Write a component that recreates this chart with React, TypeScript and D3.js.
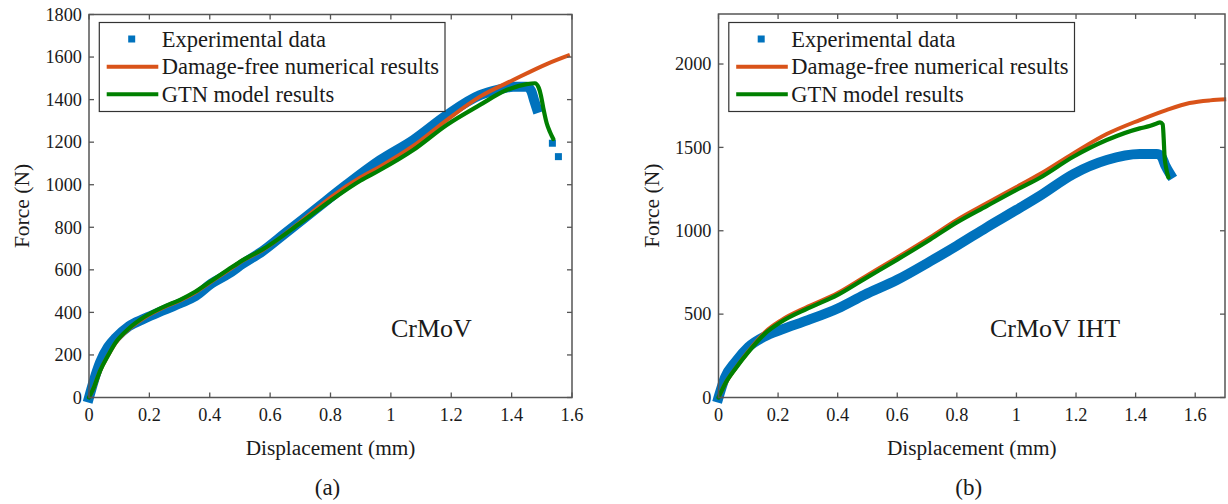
import React from "react";
import * as d3 from "d3";

// ---------- Data ----------
const legendLabels = ["Experimental data", "Damage-free numerical results", "GTN model results"];

// Panel (a) CrMoV
const aExpX = [0, 0.016, 0.037, 0.063, 0.089, 0.132, 0.184, 0.247, 0.3, 0.353, 0.405, 0.46, 0.511, 0.574, 0.65, 0.75, 0.85, 0.964, 1.074, 1.185, 1.295, 1.36, 1.405, 1.45, 1.465, 1.475, 1.483];
const aExpF = [0, 79, 166, 237, 281, 335, 371, 410, 442, 477, 535, 580, 630, 687, 772, 884, 996, 1115, 1210, 1327, 1421, 1448, 1461, 1461, 1440, 1395, 1360];
const aExpTailX = [1.535, 1.555];
const aExpTailF = [1195, 1132];
const aDfX = [0, 0.016, 0.037, 0.063, 0.089, 0.132, 0.184, 0.247, 0.3, 0.353, 0.405, 0.46, 0.511, 0.574, 0.7, 0.8, 0.9, 0.964, 1.074, 1.185, 1.295, 1.405, 1.516, 1.593];
const aDfF = [0, 47, 126, 197, 258, 322, 376, 423, 455, 495, 545, 596, 645, 692, 825, 940, 1035, 1085, 1182, 1304, 1414, 1492, 1567, 1610];
const aGtnX = [0, 0.016, 0.037, 0.063, 0.089, 0.132, 0.184, 0.247, 0.3, 0.353, 0.405, 0.46, 0.511, 0.574, 0.7, 0.8, 0.9, 0.964, 1.074, 1.185, 1.295, 1.383, 1.45, 1.477, 1.49, 1.497, 1.505, 1.516, 1.527, 1.538];
const aGtnF = [0, 47, 126, 197, 260, 324, 379, 426, 458, 498, 548, 600, 647, 695, 820, 925, 1020, 1069, 1163, 1281, 1375, 1445, 1473, 1477, 1455, 1420, 1360, 1290, 1248, 1215];

// Panel (b) CrMoV IHT
const bExpX = [0, 0.022, 0.056, 0.1, 0.156, 0.211, 0.3, 0.4, 0.489, 0.6, 0.711, 0.8, 0.9, 1.0, 1.079, 1.191, 1.303, 1.414, 1.471, 1.487, 1.499, 1.516];
const bExpF = [0, 121, 212, 302, 367, 407, 464, 534, 615, 706, 817, 910, 1020, 1125, 1210, 1340, 1424, 1460, 1460, 1444, 1394, 1340];
const bDfX = [0, 0.022, 0.056, 0.1, 0.156, 0.211, 0.3, 0.4, 0.489, 0.6, 0.711, 0.8, 0.9, 1.0, 1.079, 1.191, 1.303, 1.414, 1.503, 1.581, 1.65, 1.704];
const bDfF = [0, 81, 172, 276, 392, 464, 545, 627, 722, 840, 962, 1065, 1165, 1262, 1340, 1464, 1580, 1664, 1724, 1766, 1782, 1788];
const bGtnX = [0, 0.022, 0.056, 0.1, 0.156, 0.211, 0.3, 0.4, 0.489, 0.6, 0.711, 0.8, 0.9, 1.0, 1.079, 1.191, 1.303, 1.414, 1.447, 1.471, 1.482, 1.491, 1.494, 1.497, 1.502, 1.51];
const bGtnF = [0, 81, 171, 272, 383, 454, 534, 615, 710, 827, 948, 1050, 1148, 1245, 1318, 1444, 1544, 1614, 1628, 1644, 1650, 1638, 1560, 1450, 1380, 1320];

const aXTicks = [0, 0.2, 0.4, 0.6, 0.8, 1, 1.2, 1.4, 1.6];
const aYTicks = [0, 200, 400, 600, 800, 1000, 1200, 1400, 1600, 1800];
const bXTicks = [0, 0.2, 0.4, 0.6, 0.8, 1, 1.2, 1.4, 1.6];
const bYTicks = [0, 500, 1000, 1500, 2000];

const BLUE = "#0072BD";
const ORANGE = "#D95319";
const GREEN = "#008000";
const FONT = "Liberation Serif";
const AXC = "#555";
const TXT = "#1a1a1a";

const zip = (xs: number[], ys: number[]) => xs.map((x, i) => [x, ys[i]] as [number, number]);

type PanelProps = {
  left: number; right: number; top: number; bottom: number;
  xMax: number; yMax: number; xTicks: number[]; yTicks: number[];
  exp: [number, number][]; expTail: [number, number][];
  df: [number, number][]; gtn: [number, number][];
  label: string; labelX: number; sub: string;
};

function Panel(p: PanelProps) {
  const x = d3.scaleLinear().domain([0, p.xMax]).range([p.left, p.right]);
  const y = d3.scaleLinear().domain([0, p.yMax]).range([p.bottom, p.top]);
  const line = d3.line<[number, number]>().x(d => x(d[0])).y(d => y(d[1])).curve(d3.curveMonotoneX);
  const tl = 5;
  const cx = (p.left + p.right) / 2;
  const lgX = p.left + 10.3;
  const lgY = 22.5;
  const rows = [39, 66.7, 94.3];
  const fmt = (v: number) => String(v);
  const ts = { fontFamily: FONT };
  return (
    <g>
      {/* data */}
      <path d={line(p.exp) || ""} fill="none" stroke={BLUE} strokeWidth={10} strokeLinejoin="round" strokeLinecap="square" />
      {p.expTail.map((d, i) => (
        <rect key={"t" + i} x={x(d[0]) - 3.5} y={y(d[1]) - 3.5} width={7} height={7} fill={BLUE} />
      ))}
      <path d={line(p.df) || ""} fill="none" stroke={ORANGE} strokeWidth={4} strokeLinejoin="round" />
      <path d={line(p.gtn) || ""} fill="none" stroke={GREEN} strokeWidth={4.2} strokeLinejoin="round" strokeLinecap="round" />

      {/* axes box */}
      <rect x={p.left} y={p.top} width={p.right - p.left} height={p.bottom - p.top} fill="none" stroke={AXC} strokeWidth={1.5} />
      {p.xTicks.map(t => (
        <g key={"xt" + t}>
          <line x1={x(t)} x2={x(t)} y1={p.bottom} y2={p.bottom - tl} stroke={AXC} strokeWidth={1.3} />
          <line x1={x(t)} x2={x(t)} y1={p.top} y2={p.top + tl} stroke={AXC} strokeWidth={1.3} />
          <text x={x(t)} y={p.bottom + 23} textAnchor="middle" fontSize={18.3} style={ts} fill={TXT}>{fmt(t)}</text>
        </g>
      ))}
      {p.yTicks.map(t => (
        <g key={"yt" + t}>
          <line x1={p.left} x2={p.left + tl} y1={y(t)} y2={y(t)} stroke={AXC} strokeWidth={1.3} />
          <line x1={p.right} x2={p.right - tl} y1={y(t)} y2={y(t)} stroke={AXC} strokeWidth={1.3} />
          <text x={p.left - 7} y={y(t) + 6.3} textAnchor="end" fontSize={18.3} style={ts} fill={TXT}>{fmt(t)}</text>
        </g>
      ))}
      <text x={cx} y={455} textAnchor="middle" fontSize={21.3} style={ts} fill={TXT}>Displacement (mm)</text>
      <text transform={`translate(${p.left - 60},${(p.top + p.bottom) / 2}) rotate(-90)`} textAnchor="middle" fontSize={21.5} style={ts} fill={TXT}>Force (N)</text>
      <text x={p.labelX} y={337} fontSize={26} style={ts} fill={TXT}>{p.label}</text>
      <text x={cx - 3} y={495} textAnchor="middle" fontSize={23} style={ts} fill={TXT}>{p.sub}</text>

      {/* legend */}
      <rect x={lgX} y={lgY} width={345.7} height={89} fill="#fff" stroke="#333" strokeWidth={1.2} />
      <rect x={lgX + 32.4 - 3.5} y={rows[0] - 3.5} width={7} height={7} fill={BLUE} />
      <line x1={lgX + 7.4} x2={lgX + 59} y1={rows[1]} y2={rows[1]} stroke={ORANGE} strokeWidth={4} />
      <line x1={lgX + 7.4} x2={lgX + 59} y1={rows[2]} y2={rows[2]} stroke={GREEN} strokeWidth={4} />
      {legendLabels.map((s, i) => (
        <text key={s} x={lgX + 62.4} y={rows[i] + 7.5} fontSize={22.5} style={ts} fill={TXT}>{s}</text>
      ))}
    </g>
  );
}

export default function App() {
  return (
    <svg width={1228} height={504} style={{ position: "absolute", left: 0, top: 0, background: "#fff", fontFamily: FONT }}>
      <rect width={1228} height={504} fill="#fff" />
      <Panel left={89} right={572} top={14.5} bottom={397.5} xMax={1.6} yMax={1800}
        xTicks={aXTicks} yTicks={aYTicks}
        exp={zip(aExpX, aExpF)} expTail={zip(aExpTailX, aExpTailF)}
        df={zip(aDfX, aDfF)} gtn={zip(aGtnX, aGtnF)}
        label="CrMoV" labelX={391} sub="(a)" />
      <Panel left={718.5} right={1225} top={14} bottom={397.5} xMax={1.7} yMax={2300}
        xTicks={bXTicks} yTicks={bYTicks}
        exp={zip(bExpX, bExpF)} expTail={[]}
        df={zip(bDfX, bDfF)} gtn={zip(bGtnX, bGtnF)}
        label="CrMoV IHT" labelX={990} sub="(b)" />
    </svg>
  );
}
